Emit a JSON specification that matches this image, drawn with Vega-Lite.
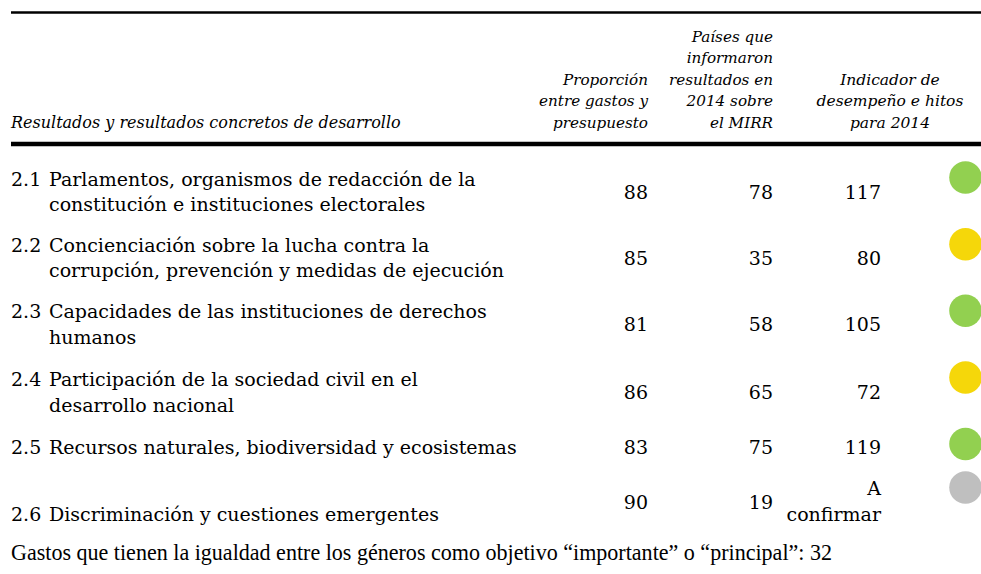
{
  "$schema": "https://vega.github.io/schema/vega-lite/v6.json",
  "width": 981,
  "height": 574,
  "autosize": "none",
  "padding": 0,
  "background": "#ffffff",
  "config": {"view": {"stroke": null}, "text": {"font": "DejaVu Serif", "color": "#000000"}},
  "datasets": {
    "filas": [
      {"n": 1, "id": ["2.1", ""], "desc": ["Parlamentos, organismos de redacción de la", "constitución e instituciones electorales"], "gastos": 88, "paises": 78, "indicador": "117", "estado": "verde"},
      {"n": 2, "id": ["2.2", ""], "desc": ["Concienciación sobre la lucha contra la", "corrupción, prevención y medidas de ejecución"], "gastos": 85, "paises": 35, "indicador": "80", "estado": "amarillo"},
      {"n": 3, "id": ["2.3", ""], "desc": ["Capacidades de las instituciones de derechos", "humanos"], "gastos": 81, "paises": 58, "indicador": "105", "estado": "verde"},
      {"n": 4, "id": ["2.4", ""], "desc": ["Participación de la sociedad civil en el", "desarrollo nacional"], "gastos": 86, "paises": 65, "indicador": "72", "estado": "amarillo"},
      {"n": 5, "id": "2.5", "desc": "Recursos naturales, biodiversidad y ecosistemas", "gastos": 83, "paises": 75, "indicador": "119", "estado": "verde"},
      {"n": 6, "id": ["", "2.6"], "desc": ["", "Discriminación y cuestiones emergentes"], "gastos": 90, "paises": 19, "indicador": ["A", "confirmar"], "estado": "gris"}
    ],
    "encabezados": [
      {"col": 0, "texto": ["Resultados y resultados concretos de desarrollo"]},
      {"col": 2, "texto": ["Proporción", "entre gastos y", "presupuesto"]},
      {"col": 3, "texto": ["Países que", "informaron", "resultados en", "2014 sobre", "el MIRR"]},
      {"col": 4, "texto": ["Indicador de", "desempeño e hitos", "para 2014"]}
    ],
    "lineas": [{"linea": "superior"}, {"linea": "encabezado"}],
    "pie": [{"n": 7, "texto": "Gastos que tienen la igualdad entre los géneros como objetivo “importante” o “principal”: 32"}]
  },
  "layer": [
    {
      "data": {"name": "lineas"},
      "mark": {"type": "rule", "color": "#000000"},
      "encoding": {
        "x": {"datum": 0, "type": "quantitative", "scale": {"domain": [0, 1, 2, 3, 4, 5, 6], "range": [11, 49, 648, 773, 881, 965.5, 981], "zero": false, "nice": false}, "axis": null},
        "x2": {"datum": 6},
        "y": {"field": "linea", "type": "nominal", "scale": {"type": "point", "domain": ["superior", "encabezado"], "range": [12.5, 144], "padding": 0}, "axis": null},
        "strokeWidth": {"condition": {"test": "datum.linea === 'encabezado'", "value": 4.5}, "value": 2.5}
      }
    },
    {
      "data": {"name": "encabezados"},
      "transform": [{"filter": "datum.col === 0"}],
      "mark": {"type": "text", "align": "left", "baseline": "alphabetic", "fontSize": 16, "fontStyle": "italic", "lineHeight": 21.5},
      "encoding": {
        "x": {"field": "col", "type": "quantitative", "scale": {"domain": [0, 1, 2, 3, 4, 5, 6], "range": [11, 49, 648, 773, 881, 965.5, 981], "zero": false, "nice": false}, "axis": null},
        "y": {"field": "col", "type": "quantitative", "scale": {"domain": [0, 2, 3, 4], "range": [127.5, 84.5, 41.5, 84.5], "zero": false, "nice": false}, "axis": null},
        "text": {"field": "texto", "type": "nominal"}
      }
    },
    {
      "data": {"name": "encabezados"},
      "transform": [{"filter": "datum.col === 2 || datum.col === 3"}],
      "mark": {"type": "text", "align": "right", "baseline": "alphabetic", "fontSize": 15.2, "fontStyle": "italic", "lineHeight": 21.5},
      "encoding": {
        "x": {"field": "col", "type": "quantitative", "scale": {"domain": [0, 1, 2, 3, 4, 5, 6], "range": [11, 49, 648, 773, 881, 965.5, 981], "zero": false, "nice": false}, "axis": null},
        "y": {"field": "col", "type": "quantitative", "scale": {"domain": [0, 2, 3, 4], "range": [127.5, 84.5, 41.5, 84.5], "zero": false, "nice": false}, "axis": null},
        "text": {"field": "texto", "type": "nominal"}
      }
    },
    {
      "data": {"name": "encabezados"},
      "transform": [{"filter": "datum.col === 4"}],
      "mark": {"type": "text", "align": "center", "baseline": "alphabetic", "fontSize": 15.5, "fontStyle": "italic", "lineHeight": 21.5, "dx": 9},
      "encoding": {
        "x": {"field": "col", "type": "quantitative", "scale": {"domain": [0, 1, 2, 3, 4, 5, 6], "range": [11, 49, 648, 773, 881, 965.5, 981], "zero": false, "nice": false}, "axis": null},
        "y": {"field": "col", "type": "quantitative", "scale": {"domain": [0, 2, 3, 4], "range": [127.5, 84.5, 41.5, 84.5], "zero": false, "nice": false}, "axis": null},
        "text": {"field": "texto", "type": "nominal"}
      }
    },
    {
      "data": {"name": "filas"},
      "mark": {"type": "text", "align": "left", "baseline": "middle", "fontSize": 19, "lineHeight": 25.5},
      "encoding": {
        "x": {"datum": 0, "type": "quantitative", "scale": {"domain": [0, 1, 2, 3, 4, 5, 6], "range": [11, 49, 648, 773, 881, 965.5, 981], "zero": false, "nice": false}, "axis": null},
        "y": {"field": "n", "type": "quantitative", "scale": {"domain": [1, 2, 3, 4, 5, 6], "range": [179.85, 245.85, 312.15, 380.45, 447.6, 489], "zero": false, "nice": false}, "axis": null},
        "text": {"field": "id", "type": "nominal"}
      }
    },
    {
      "data": {"name": "filas"},
      "mark": {"type": "text", "align": "left", "baseline": "middle", "fontSize": 19, "lineHeight": 25.5},
      "encoding": {
        "x": {"datum": 1, "type": "quantitative", "scale": {"domain": [0, 1, 2, 3, 4, 5, 6], "range": [11, 49, 648, 773, 881, 965.5, 981], "zero": false, "nice": false}, "axis": null},
        "y": {"field": "n", "type": "quantitative", "scale": {"domain": [1, 2, 3, 4, 5, 6], "range": [179.85, 245.85, 312.15, 380.45, 447.6, 489], "zero": false, "nice": false}, "axis": null},
        "text": {"field": "desc", "type": "nominal"}
      }
    },
    {
      "data": {"name": "filas"},
      "mark": {"type": "text", "align": "right", "baseline": "middle", "fontSize": 19, "lineHeight": 25.5},
      "encoding": {
        "x": {"datum": 2, "type": "quantitative", "scale": {"domain": [0, 1, 2, 3, 4, 5, 6], "range": [11, 49, 648, 773, 881, 965.5, 981], "zero": false, "nice": false}, "axis": null},
        "y": {"field": "n", "type": "quantitative", "scale": {"domain": [1, 2, 3, 4, 5, 6, 7], "range": [192.6, 258.6, 325, 393.2, 447.6, 502.6, 553], "zero": false, "nice": false}, "axis": null},
        "text": {"field": "gastos", "type": "quantitative", "format": "d"}
      }
    },
    {
      "data": {"name": "filas"},
      "mark": {"type": "text", "align": "right", "baseline": "middle", "fontSize": 19, "lineHeight": 25.5},
      "encoding": {
        "x": {"datum": 3, "type": "quantitative", "scale": {"domain": [0, 1, 2, 3, 4, 5, 6], "range": [11, 49, 648, 773, 881, 965.5, 981], "zero": false, "nice": false}, "axis": null},
        "y": {"field": "n", "type": "quantitative", "scale": {"domain": [1, 2, 3, 4, 5, 6, 7], "range": [192.6, 258.6, 325, 393.2, 447.6, 502.6, 553], "zero": false, "nice": false}, "axis": null},
        "text": {"field": "paises", "type": "quantitative", "format": "d"}
      }
    },
    {
      "data": {"name": "filas"},
      "mark": {"type": "text", "align": "right", "baseline": "middle", "fontSize": 19, "lineHeight": 25.5},
      "encoding": {
        "x": {"datum": 4, "type": "quantitative", "scale": {"domain": [0, 1, 2, 3, 4, 5, 6], "range": [11, 49, 648, 773, 881, 965.5, 981], "zero": false, "nice": false}, "axis": null},
        "y": {"field": "n", "type": "quantitative", "scale": {"domain": [1, 2, 3, 4, 5, 6], "range": [192.6, 258.6, 325, 393.2, 447.6, 489], "zero": false, "nice": false}, "axis": null},
        "text": {"field": "indicador", "type": "nominal"}
      }
    },
    {
      "data": {"name": "pie"},
      "mark": {"type": "text", "align": "left", "baseline": "middle", "fontSize": 22.05, "font": "Liberation Serif"},
      "encoding": {
        "x": {"datum": 0, "type": "quantitative", "scale": {"domain": [0, 1, 2, 3, 4, 5, 6], "range": [11, 49, 648, 773, 881, 965.5, 981], "zero": false, "nice": false}, "axis": null},
        "y": {"field": "n", "type": "quantitative", "scale": {"domain": [1, 2, 3, 4, 5, 6, 7], "range": [192.6, 258.6, 325, 393.2, 447.6, 502.6, 553], "zero": false, "nice": false}, "axis": null},
        "text": {"field": "texto", "type": "nominal"}
      }
    },
    {
      "data": {"name": "filas"},
      "mark": {"type": "circle", "size": 1060, "opacity": 1},
      "encoding": {
        "x": {"datum": 5, "type": "quantitative", "scale": {"domain": [0, 1, 2, 3, 4, 5, 6], "range": [11, 49, 648, 773, 881, 965.5, 981], "zero": false, "nice": false}, "axis": null},
        "y": {"field": "n", "type": "quantitative", "scale": {"domain": [1, 2, 3, 4, 5, 6], "range": [177.5, 244.2, 310.8, 377.5, 444, 487.5], "zero": false, "nice": false}, "axis": null},
        "color": {"field": "estado", "type": "nominal", "scale": {"domain": ["verde", "amarillo", "gris"], "range": ["#92D050", "#F5D70A", "#BFBFBF"]}, "legend": null}
      }
    }
  ],
  "resolve": {"scale": {"y": "independent"}}
}
